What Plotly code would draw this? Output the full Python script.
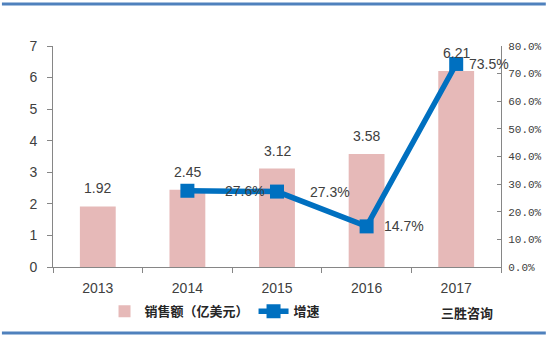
import plotly.graph_objects as go

years = ["2013", "2014", "2015", "2016", "2017"]
sales = [1.92, 2.45, 3.12, 3.58, 6.21]
growth = [None, 0.276, 0.273, 0.147, 0.735]
growth_labels = ["", "27.6%", "27.3%", "14.7%", "73.5%"]
label_shift = [0, 36, 31, 15, 11]

fig = go.Figure()
fig.add_trace(go.Bar(
    x=years, y=sales, name="销售额（亿美元）",
    marker=dict(color="#E6B9B8", line=dict(width=0)),
))
fig.add_trace(go.Scatter(
    x=years, y=growth, name="增速", yaxis="y2", mode="lines+markers",
    line=dict(color="#0070C0", width=5.5),
    marker=dict(symbol="square", size=14, color="#0070C0"),
    cliponaxis=False,
))
for i, v in enumerate(sales):
    fig.add_annotation(x=i, xref="x", y=v, yref="y", text=f"{v:.2f}", showarrow=False,
                       yanchor="bottom", yshift=8,
                       font=dict(family="Liberation Sans", size=14, color="#404040"))
for i, (g, t, s) in enumerate(zip(growth, growth_labels, label_shift)):
    if g is None:
        continue
    fig.add_annotation(x=i, xref="x", y=g, yref="y2", text=t, showarrow=False,
                       xanchor="left", xshift=s,
                       font=dict(family="Liberation Sans", size=14, color="#404040"))

fig.add_annotation(xref="paper", yref="paper", x=0.862, y=-0.208, text="<b>三胜咨询</b>",
                   showarrow=False, xanchor="left", yanchor="middle",
                   font=dict(family="Noto Sans CJK SC", size=13, color="#262626"))

line_col = "#4F81BD"
fig.add_shape(type="line", xref="paper", yref="paper", x0=-0.114, x1=1.10, y0=1.19, y1=1.19,
              line=dict(color=line_col, width=3))
fig.add_shape(type="line", xref="paper", yref="paper", x0=-0.114, x1=1.10, y0=-0.299, y1=-0.299,
              line=dict(color=line_col, width=3))

fig.update_layout(
    width=550, height=339,
    margin=dict(l=53, r=49, t=46, b=72, autoexpand=False),
    paper_bgcolor="white", plot_bgcolor="white",
    bargap=0.6,
    showlegend=True,
    legend=dict(orientation="h", x=0.115, xanchor="left", y=-0.2, yanchor="middle",
                font=dict(family="Noto Sans CJK SC", size=13, color="#262626", weight="bold"),
                itemwidth=30, tracegroupgap=0),
    xaxis=dict(type="category", categoryorder="array", categoryarray=years, automargin=False,
               range=[-0.5, 4.5], showline=True, linecolor="#868686", linewidth=1,
               ticks="outside", ticklen=5, tickcolor="#868686", tickson="boundaries",
               ticklabelstandoff=8,
               tickfont=dict(family="Liberation Sans", size=14, color="#404040"),
               showgrid=False, zeroline=False),
    yaxis=dict(range=[0, 7], dtick=1, showline=True, linecolor="#868686", linewidth=1,
               automargin=False,
               ticks="outside", ticklen=5, tickcolor="#868686", showgrid=False, zeroline=False,
               ticklabelstandoff=7,
               tickfont=dict(family="Liberation Sans", size=14, color="#404040")),
    yaxis2=dict(range=[0, 0.8], dtick=0.1, tickformat=".1%", overlaying="y", side="right",
                automargin=False,
                showline=True, linecolor="#868686", linewidth=1,
                ticks="inside", ticklen=4, tickcolor="#868686", showgrid=False, zeroline=False,
                ticklabelstandoff=4,
                tickfont=dict(family="Liberation Mono", size=11, color="#404040")),
)

fig.write_html("out.html")
